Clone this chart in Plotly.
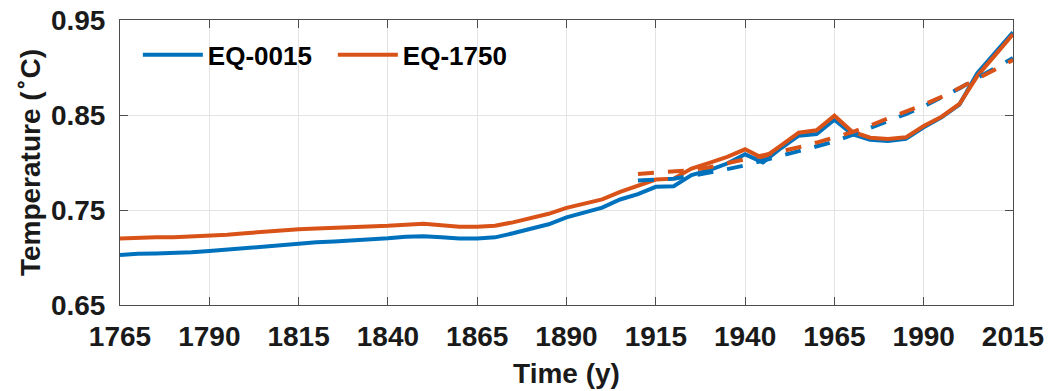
import plotly.graph_objects as go

years = list(range(1765, 2016, 5))
eq0015 = [0.7026, 0.7040, 0.7043, 0.7045, 0.7055, 0.7068, 0.7085, 0.7100, 0.7118, 0.7135,
          0.7150, 0.7160, 0.7168, 0.7176, 0.7188, 0.7202, 0.7218, 0.7225, 0.7212, 0.7200,
          0.7200, 0.7212, 0.7255, 0.7300, 0.7350, 0.7422, 0.7470, 0.7525, 0.7611, 0.7667,
          0.7744, 0.7750, 0.7867, 0.7919, 0.7989, 0.8086, 0.8002, 0.8150, 0.8282, 0.8300,
          0.8450, 0.8297, 0.8240, 0.8226, 0.8250, 0.8370, 0.8475, 0.8610, 0.8940, 0.9160,
          0.9370]
eq1750 = [0.7200, 0.7210, 0.7212, 0.7214, 0.7220, 0.7229, 0.7240, 0.7255, 0.7272, 0.7287,
          0.7298, 0.7305, 0.7310, 0.7314, 0.7323, 0.7334, 0.7346, 0.7355, 0.7340, 0.7325,
          0.7325, 0.7334, 0.7370, 0.7410, 0.7460, 0.7523, 0.7565, 0.7612, 0.7691, 0.7750,
          0.7820, 0.7830, 0.7937, 0.7996, 0.8059, 0.8139, 0.8044, 0.8177, 0.8314, 0.8339,
          0.8493, 0.8324, 0.8261, 0.8247, 0.8265, 0.8384, 0.8482, 0.8616, 0.8910, 0.9130,
          0.9350]

trend_years = list(range(1910, 2016, 5))
trend0015 = [0.781, 0.782, 0.783, 0.786, 0.789, 0.793, 0.797, 0.802, 0.806, 0.811, 0.817,
             0.822, 0.829, 0.836, 0.843, 0.851, 0.859, 0.868, 0.878, 0.889, 0.899, 0.910]
trend1750 = [0.788, 0.789, 0.790, 0.792, 0.795, 0.799, 0.803, 0.807, 0.811, 0.816, 0.821,
             0.826, 0.832, 0.839, 0.846, 0.853, 0.861, 0.869, 0.878, 0.888, 0.898, 0.908]

x_ticks = list(range(1765, 2016, 25))
y_ticks = [0.65, 0.75, 0.85, 0.95]
y_tick_text = ["0.65", "0.75", "0.85", "0.95"]

BLUE = "#0072BD"
ORANGE = "#D95319"
FONT = "Liberation Sans"

fig = go.Figure()
fig.add_trace(go.Scatter(x=years, y=eq0015, mode="lines", name="EQ-0015",
                         line=dict(color=BLUE, width=4)))
fig.add_trace(go.Scatter(x=years, y=eq1750, mode="lines", name="EQ-1750",
                         line=dict(color=ORANGE, width=4)))
fig.add_trace(go.Scatter(x=trend_years, y=trend0015, mode="lines", showlegend=False,
                         line=dict(color=BLUE, width=4, dash="16px,14px")))
fig.add_trace(go.Scatter(x=trend_years, y=trend1750, mode="lines", showlegend=False,
                         line=dict(color=ORANGE, width=4, dash="16px,14px")))

axis_common = dict(
    showline=True, linecolor="#4d4d4d", linewidth=1, mirror="ticks",
    ticks="inside", ticklen=8, tickcolor="#4d4d4d", tickwidth=1,
    showgrid=True, gridcolor="#e3e3e3", gridwidth=1, zeroline=False,
    tickfont=dict(family=FONT, size=28, color="#1a1a1a", weight="bold"),
    automargin=False,
)

fig.update_layout(
    width=1049, height=391,
    margin=dict(l=120, r=36, t=20, b=86),
    paper_bgcolor="white", plot_bgcolor="white",
    font=dict(family=FONT, color="#1a1a1a"),
    xaxis=dict(range=[1765, 2015], tickvals=x_ticks, ticklabelstandoff=6,
               title=dict(text="Time (y)", standoff=12,
                          font=dict(family=FONT, size=28, color="#1a1a1a", weight="bold")),
               **axis_common),
    yaxis=dict(range=[0.65, 0.95], tickvals=y_ticks, ticktext=y_tick_text, ticklabelstandoff=8,
               title=dict(text="Temperature (<sup>∘</sup>C)", standoff=2,
                          font=dict(family=FONT, size=28, color="#1a1a1a", weight="bold")),
               **axis_common),
    legend=dict(orientation="h", x=0.02, y=0.96, xanchor="left", yanchor="top",
                bgcolor="rgba(0,0,0,0)", borderwidth=0, itemwidth=60,
                entrywidth=120, entrywidthmode="pixels",
                font=dict(family=FONT, size=26, color="#000000", weight="bold")),
    showlegend=True,
)

fig.write_html("out.html")
